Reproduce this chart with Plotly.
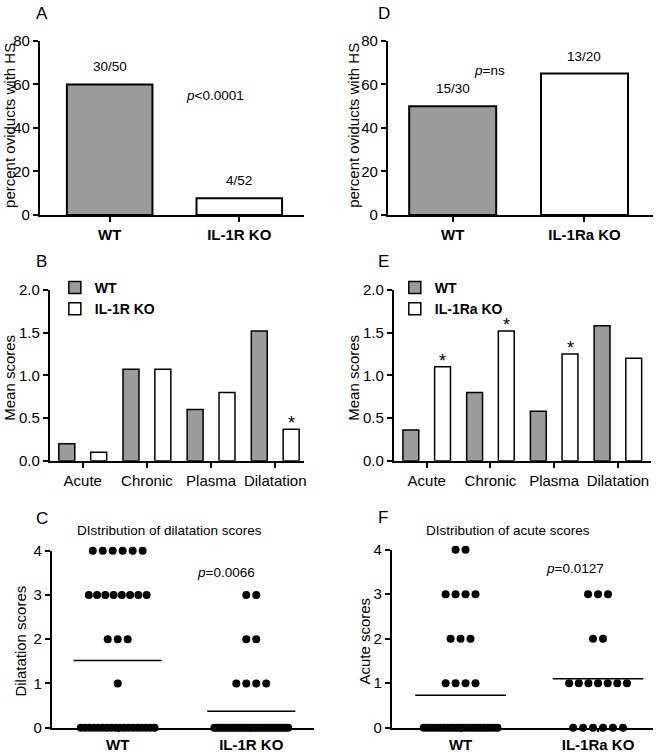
import plotly.graph_objects as go

W, H = 665, 756

# ---------------- data ----------------
A_groups = ["WT", "IL-1R KO"]
A_pct = [60, 7.7]
A_frac = ["30/50", "4/52"]
A_p = "<i>p</i>&lt;0.0001"

D_groups = ["WT", "IL-1Ra KO"]
D_pct = [50, 65]
D_frac = ["15/30", "13/20"]
D_p = "<i>p</i>=ns"

categories = ["Acute", "Chronic", "Plasma", "Dilatation"]
B_wt = [0.20, 1.07, 0.60, 1.52]
B_ko = [0.10, 1.07, 0.80, 0.37]
B_sig = [False, False, False, True]
E_wt = [0.36, 0.80, 0.58, 1.58]
E_ko = [1.10, 1.52, 1.25, 1.20]
E_sig = [True, True, True, False]

scores = [0, 1, 2, 3, 4]
C_wt_counts = [18, 1, 3, 8, 6]
C_ko_counts = [30, 4, 2, 2, 0]
C_means = [1.52, 0.37]
C_p = "<i>p</i>=0.0066"
F_wt_counts = [23, 4, 3, 4, 2]
F_ko_counts = [6, 7, 2, 3, 0]
F_means = [0.73, 1.10]
F_p = "<i>p</i>=0.0127"

GRAY = "#9b9b9b"
FONT = "Liberation Sans, Arial, sans-serif"
TICK = 15

# vertical calibration of the photographed page (observed offset / scale)
V_OFF, V_SCALE = 8.0, 0.978


def pxx(p):
    return p / W


def pxy(p):
    return 1 - ((p - V_OFF) / V_SCALE) / H


def ax(rng, **kw):
    d = dict(showline=True, linecolor="black", linewidth=2, ticks="outside",
             ticklen=5, tickwidth=2, tickcolor="black", showgrid=False,
             zeroline=False, tickfont=dict(size=TICK, color="black", family=FONT),
             range=rng, fixedrange=True)
    d.update(kw)
    return d


fig = go.Figure()

# ---------- Panel A (x/y) and D (x4/y4) ----------
fig.add_trace(go.Bar(x=[1, 2], y=A_pct, width=0.66, xaxis="x", yaxis="y",
                     marker=dict(color=[GRAY, "white"], line=dict(color="black", width=2)),
                     showlegend=False))
fig.add_trace(go.Bar(x=[1, 2], y=D_pct, width=0.66, xaxis="x4", yaxis="y4",
                     marker=dict(color=[GRAY, "white"], line=dict(color="black", width=2)),
                     showlegend=False))

# ---------- Panel B (x2/y2) and E (x5/y5) ----------
cat_x = list(range(1, len(categories) + 1))
for xa, ya, wt, ko, leg, koname in [("x2", "y2", B_wt, B_ko, "legend", "IL-1R KO"),
                                    ("x5", "y5", E_wt, E_ko, "legend2", "IL-1Ra KO")]:
    fig.add_trace(go.Bar(x=cat_x, y=wt, width=0.249, offset=-0.373, xaxis=xa, yaxis=ya,
                         name="WT", legend=leg,
                         marker=dict(color=GRAY, line=dict(color="black", width=1.5))))
    fig.add_trace(go.Bar(x=cat_x, y=ko, width=0.249, offset=0.124, xaxis=xa, yaxis=ya,
                         name=koname, legend=leg,
                         marker=dict(color="white", line=dict(color="black", width=1.5))))


# ---------- Panel C (x3/y3) and F (x6/y6) ----------
def row_x(center, n, spacing, max_half):
    if n <= 0:
        return []
    sp = spacing
    if n > 1 and (n - 1) * sp / 2 > max_half:
        sp = 2 * max_half / (n - 1)
    return [center + (i - (n - 1) / 2) * sp for i in range(n)]


for xa, ya, groups_counts, means, ppu in [
        ("x3", "y3", [C_wt_counts, C_ko_counts], C_means, 134.0),
        ("x6", "y6", [F_wt_counts, F_ko_counts], F_means, 138.0)]:
    for gi, counts in enumerate(groups_counts):
        xs, ys = [], []
        for s, n in zip(scores, counts):
            half = 37 if s == 0 else 29
            xr = row_x(gi + 1, n, 10 / ppu, half / ppu)
            xs += xr
            ys += [s] * len(xr)
        fig.add_trace(go.Scatter(x=xs, y=ys, mode="markers", xaxis=xa, yaxis=ya,
                                 marker=dict(color="black", size=8), cliponaxis=False,
                                 showlegend=False))
        fig.add_trace(go.Scatter(x=[gi + 1 - 0.33, gi + 1 + 0.33], y=[means[gi]] * 2,
                                 mode="lines", xaxis=xa, yaxis=ya,
                                 line=dict(color="black", width=1.5), showlegend=False))

bold = lambda t: "<b>%s</b>" % t

fig.update_layout(
    width=W, height=H, margin=dict(l=0, r=0, t=0, b=0),
    paper_bgcolor="white", plot_bgcolor="white", barmode="overlay",
    font=dict(family=FONT, color="black", size=TICK),
    # A
    xaxis=ax([0.4615, 2.5], domain=[pxx(40), pxx(305)], anchor="y",
             tickvals=[1, 2], ticktext=[bold(g) for g in A_groups]),
    yaxis=ax([0, 80], domain=[pxy(214), pxy(40)], anchor="x", dtick=20),
    # B
    xaxis2=ax([0.487, 4.45], domain=[pxx(50), pxx(305)], anchor="y2",
              tickvals=cat_x, ticktext=categories),
    yaxis2=ax([0, 2], domain=[pxy(460), pxy(289)], anchor="x2", dtick=0.5,
              tickformat=".1f"),
    # C
    xaxis3=ax([0.507, 2.47], domain=[pxx(52), pxx(315)], anchor="y3",
              tickvals=[1, 2], ticktext=[bold(g) for g in A_groups], ticklen=2),
    yaxis3=ax([0, 4], domain=[pxy(727), pxy(550)], anchor="x3", dtick=1),
    # D
    xaxis4=ax([0.508, 2.52], domain=[pxx(389), pxx(655)], anchor="y4",
              tickvals=[1, 2], ticktext=[bold(g) for g in D_groups]),
    yaxis4=ax([0, 80], domain=[pxy(214), pxy(40)], anchor="x4", dtick=20),
    # E
    xaxis5=ax([0.484, 4.52], domain=[pxx(395), pxx(653)], anchor="y5",
              tickvals=cat_x, ticktext=categories),
    yaxis5=ax([0, 2], domain=[pxy(460), pxy(289)], anchor="x5", dtick=0.5,
              tickformat=".1f"),
    # F
    xaxis6=ax([0.5, 2.4], domain=[pxx(393), pxx(655)], anchor="y6",
              tickvals=[1, 2], ticktext=[bold(g) for g in D_groups], ticklen=2),
    yaxis6=ax([0, 4], domain=[pxy(727), pxy(549)], anchor="x6", dtick=1),
    legend=dict(x=pxx(55), y=pxy(271), xanchor="left", yanchor="top",
                bgcolor="rgba(0,0,0,0)", font=dict(size=14, weight="bold"),
                tracegroupgap=0),
    legend2=dict(x=pxx(396), y=pxy(271), xanchor="left", yanchor="top",
                 bgcolor="rgba(0,0,0,0)", font=dict(size=14, weight="bold"),
                 tracegroupgap=0),
)

ann = []


def paper_text(text, xp, yp, size=TICK, **kw):
    d = dict(text=text, x=pxx(xp), y=pxy(yp), xref="paper", yref="paper",
             showarrow=False, xanchor="center", yanchor="middle",
             font=dict(size=size, color="black", family=FONT))
    d.update(kw)
    ann.append(d)


# panel letters
for letter, xp, yp in [("A", 42, 13), ("B", 42, 261), ("C", 42, 518),
                       ("D", 385, 13), ("E", 385, 261), ("F", 384, 517)]:
    paper_text(letter, xp, yp, size=17)

# y-axis titles
for t, xp, yp in [("percent oviducts with HS", 10, 124), ("percent oviducts with HS", 355, 124),
                  ("Mean scores", 10, 377), ("Mean scores", 355, 377),
                  ("Dilatation scores", 21, 640), ("Acute scores", 366, 640)]:
    paper_text(t, xp, yp, size=15, textangle=-90)

# p-values
paper_text(A_p, 216, 95, size=13.5)
paper_text(D_p, 491, 70, size=13.5)
paper_text(C_p, 227, 572, size=13.5)
paper_text(F_p, 577, 568, size=13.5)

# dot-panel titles
paper_text("DIstribution of dilatation scores", 170, 530, size=13.5)
paper_text("DIstribution of acute scores", 510, 530, size=13.5)

# fractions above bars
for xa, ya, vals, fr in [("x", "y", A_pct, A_frac), ("x4", "y4", D_pct, D_frac)]:
    for i, (v, f) in enumerate(zip(vals, fr)):
        ann.append(dict(text=f, x=i + 1, y=v, xref=xa, yref=ya, showarrow=False,
                        yanchor="bottom", yshift=8, font=dict(size=13.5, color="black")))

# significance asterisks
for xa, ya, ko, sig in [("x2", "y2", B_ko, B_sig), ("x5", "y5", E_ko, E_sig)]:
    for i, (v, s) in enumerate(zip(ko, sig)):
        if s:
            ann.append(dict(text="*", x=i + 1 + 0.249, y=v, xref=xa, yref=ya,
                            showarrow=False, yanchor="bottom", yshift=-6,
                            font=dict(size=18, color="black")))

fig.update_layout(annotations=ann)
fig.write_html(
    "out.html",
    config={"displayModeBar": False, "staticPlot": True},
    post_script=(
        "var h=document.documentElement.style;h.margin='0';h.padding='0';h.overflow='hidden';"
        "var b=document.body.style;b.margin='0';b.padding='0';b.overflow='hidden';"
        "window.scrollTo(0,0);"
    ),
)
